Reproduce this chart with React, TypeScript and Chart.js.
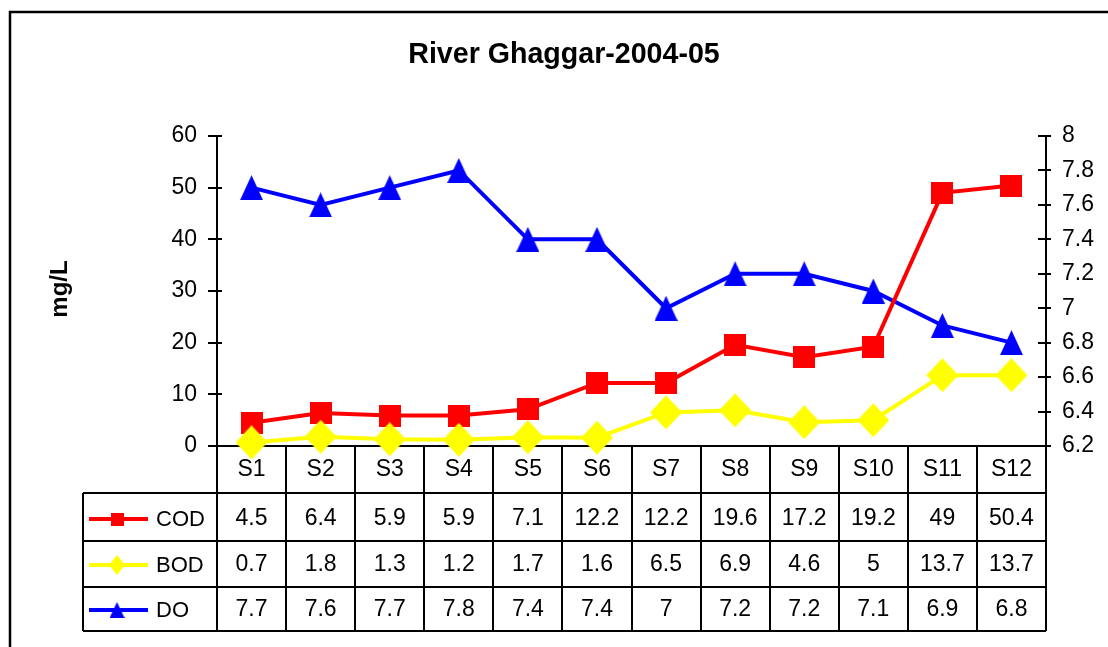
import React, { useEffect, useRef } from "react";
import { Chart, registerables } from "chart.js";

Chart.register(...registerables);

const title = "River Ghaggar-2004-05";
const yTitle = "mg/L";
const categories = ["S1", "S2", "S3", "S4", "S5", "S6", "S7", "S8", "S9", "S10", "S11", "S12"];
const codValues = [4.5, 6.4, 5.9, 5.9, 7.1, 12.2, 12.2, 19.6, 17.2, 19.2, 49, 50.4];
const bodValues = [0.7, 1.8, 1.3, 1.2, 1.7, 1.6, 6.5, 6.9, 4.6, 5, 13.7, 13.7];
const doValues = [7.7, 7.6, 7.7, 7.8, 7.4, 7.4, 7, 7.2, 7.2, 7.1, 6.9, 6.8];
const leftTicks = [0, 10, 20, 30, 40, 50, 60];
const rightTicks = [6.2, 6.4, 6.6, 6.8, 7, 7.2, 7.4, 7.6, 7.8, 8];

const FONT = '"Liberation Sans", Arial, Helvetica, sans-serif';
const RED = "#FF0000";
const YELLOW = "#FFFF00";
const BLUE = "#0000FF";

type Shape = "square" | "diamond" | "triangle";

function makeMarker(shape: Shape, w: number, h: number, color: string): HTMLCanvasElement {
  const c = document.createElement("canvas");
  c.width = w;
  c.height = h;
  const g = c.getContext("2d")!;
  g.fillStyle = color;
  g.beginPath();
  if (shape === "square") {
    g.rect(0, 0, w, h);
  } else if (shape === "diamond") {
    g.moveTo(w / 2, 0);
    g.lineTo(w, h / 2);
    g.lineTo(w / 2, h);
    g.lineTo(0, h / 2);
    g.closePath();
  } else {
    g.moveTo(w / 2, 0);
    g.lineTo(w, h);
    g.lineTo(0, h);
    g.closePath();
  }
  g.fill();
  return c;
}

function fmt(v: number): string {
  return String(Number(v.toFixed(1)));
}

export default function App() {
  const ref = useRef<HTMLCanvasElement>(null);

  useEffect(() => {
    const squareBig = makeMarker("square", 22, 22, RED);
    const diamondBig = makeMarker("diamond", 32, 34, YELLOW);
    const triangleBig = makeMarker("triangle", 23, 25, BLUE);
    const squareSmall = makeMarker("square", 13, 13, RED);
    const diamondSmall = makeMarker("diamond", 16, 20, YELLOW);
    const triangleSmall = makeMarker("triangle", 15, 16, BLUE);

    const series = [
      { name: "COD", values: codValues, color: RED, small: squareSmall },
      { name: "BOD", values: bodValues, color: YELLOW, small: diamondSmall },
      { name: "DO", values: doValues, color: BLUE, small: triangleSmall },
    ];

    const tablePlugin = {
      id: "excelTable",
      beforeDatasetsDraw(chart: any) {
        const ctx = chart.ctx as CanvasRenderingContext2D;
        const { left, right, bottom } = chart.chartArea;
        const yL = chart.scales.y;
        const yR = chart.scales.y1;
        const n = categories.length;
        const bw = (right - left) / n;
        const rows = [bottom, bottom + 47, bottom + 95, bottom + 141, bottom + 185];
        const tableLeft = 83;
        ctx.save();
        ctx.strokeStyle = "#000";
        ctx.lineWidth = 2.5;
        ctx.strokeRect(10, 12, 1300, 900);
        ctx.lineWidth = 2;
        ctx.beginPath();
        ctx.moveTo(left, yL.getPixelForValue(leftTicks[leftTicks.length - 1]));
        ctx.lineTo(left, rows[4]);
        for (const v of leftTicks) {
          const y = Math.round(yL.getPixelForValue(v));
          ctx.moveTo(left - 9, y);
          ctx.lineTo(left + 5, y);
        }
        ctx.moveTo(right, yR.getPixelForValue(rightTicks[rightTicks.length - 1]));
        ctx.lineTo(right, rows[4]);
        for (const v of rightTicks) {
          const y = Math.round(yR.getPixelForValue(v));
          ctx.moveTo(right - 8, y);
          ctx.lineTo(right + 5, y);
        }
        ctx.moveTo(left, bottom);
        ctx.lineTo(right, bottom);
        for (let k = 1; k < n; k++) {
          const x = Math.round(left + k * bw);
          ctx.moveTo(x, bottom);
          ctx.lineTo(x, rows[4]);
        }
        ctx.moveTo(tableLeft, rows[1]);
        ctx.lineTo(tableLeft, rows[4]);
        for (let r = 1; r < rows.length; r++) {
          ctx.moveTo(tableLeft, rows[r]);
          ctx.lineTo(right, rows[r]);
        }
        ctx.stroke();
        ctx.restore();
      },
      afterDraw(chart: any) {
        const ctx = chart.ctx as CanvasRenderingContext2D;
        const { bottom } = chart.chartArea;
        const xs = chart.scales.x;
        const rowCenters = [bottom + 24, bottom + 73, bottom + 119, bottom + 164];
        ctx.save();
        ctx.fillStyle = "#000";
        ctx.font = `bold 28.6px ${FONT}`;
        ctx.textAlign = "center";
        ctx.textBaseline = "alphabetic";
        ctx.fillText(title, 564, 63);
        ctx.save();
        ctx.translate(60, 289);
        ctx.rotate(-Math.PI / 2);
        ctx.font = `bold 24px ${FONT}`;
        ctx.textBaseline = "middle";
        ctx.fillText(yTitle, 0, 0);
        ctx.restore();
        ctx.font = `23px ${FONT}`;
        ctx.textAlign = "center";
        ctx.textBaseline = "middle";
        categories.forEach((c, i) => {
          const x = xs.getPixelForValue(i);
          ctx.fillText(c, x, rowCenters[0]);
          series.forEach((s, j) => {
            ctx.fillText(String(s.values[i]), x, rowCenters[j + 1]);
          });
        });
        series.forEach((s, j) => {
          const y = rowCenters[j + 1];
          ctx.strokeStyle = s.color;
          ctx.lineWidth = 4;
          ctx.beginPath();
          ctx.moveTo(89, y);
          ctx.lineTo(148, y);
          ctx.stroke();
          ctx.drawImage(s.small, 117 - s.small.width / 2, y - s.small.height / 2);
          ctx.fillStyle = "#000";
          ctx.font = `22px ${FONT}`;
          ctx.textAlign = "left";
          ctx.fillText(s.name, 156, y + 1);
        });
        ctx.restore();
      },
    };

    const tickFont = { family: FONT, size: 23 };

    const chart = new Chart(ref.current!, {
      type: "line",
      data: {
        labels: categories,
        datasets: [
          {
            label: "COD",
            data: codValues,
            yAxisID: "y",
            borderColor: RED,
            backgroundColor: RED,
            borderWidth: 4,
            pointStyle: squareBig as any,
            pointRadius: 12,
            pointBorderWidth: 0,
            tension: 0,
            clip: false as any,
            order: 1,
          },
          {
            label: "BOD",
            data: bodValues,
            yAxisID: "y",
            borderColor: YELLOW,
            backgroundColor: YELLOW,
            borderWidth: 4,
            pointStyle: diamondBig as any,
            pointRadius: 12,
            pointBorderWidth: 0,
            tension: 0,
            clip: false as any,
            order: 0,
          },
          {
            label: "DO",
            data: doValues,
            yAxisID: "y1",
            borderColor: BLUE,
            backgroundColor: BLUE,
            borderWidth: 4,
            pointStyle: triangleBig as any,
            pointRadius: 12,
            pointBorderWidth: 0,
            tension: 0,
            clip: false as any,
            order: 2,
          },
        ],
      },
      options: {
        responsive: false,
        animation: false,
        devicePixelRatio: 1,
        layout: { padding: { top: 136, bottom: 201, left: 0, right: 0 } },
        plugins: {
          legend: { display: false },
          title: { display: false },
          tooltip: { enabled: false },
        },
        scales: {
          x: { type: "category", offset: true, display: false },
          y: {
            position: "left",
            min: 0,
            max: 60,
            afterBuildTicks: (s: any) => {
              s.ticks = leftTicks.map((v) => ({ value: v }));
            },
            afterFit: (s: any) => {
              s.width = 217;
            },
            ticks: { padding: 20, font: tickFont, color: "#000", callback: (v: any) => fmt(Number(v)) },
            grid: { display: false, drawTicks: false },
            border: { display: false },
          },
          y1: {
            position: "right",
            min: 6.2,
            max: 8,
            afterBuildTicks: (s: any) => {
              s.ticks = rightTicks.map((v) => ({ value: v }));
            },
            afterFit: (s: any) => {
              s.width = 62;
            },
            ticks: { padding: 16, font: tickFont, color: "#000", callback: (v: any) => fmt(Number(v)) },
            grid: { display: false, drawTicks: false },
            border: { display: false },
          },
        },
      } as any,
      plugins: [tablePlugin],
    });
    return () => chart.destroy();
  }, []);

  return (
    <div style={{ position: "absolute", left: 0, top: 0, width: 1108, height: 647, background: "#fff", overflow: "hidden" }}>
      <canvas ref={ref} width={1108} height={647} style={{ display: "block", width: 1108, height: 647 }} />
    </div>
  );
}
